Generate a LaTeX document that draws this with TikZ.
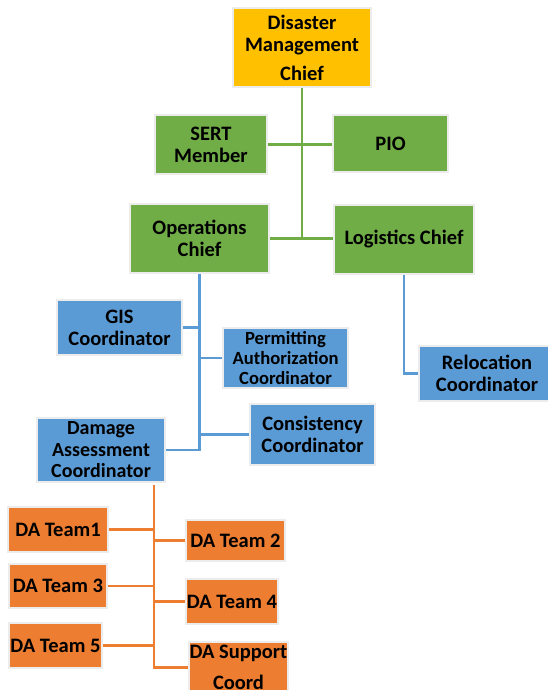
\documentclass[tikz,border=0pt]{standalone}
\usepackage{fontspec}
\setmainfont{Carlito}
\definecolor{boxgreen}{HTML}{70AD47}
\definecolor{boxblue}{HTML}{5B9BD5}
\definecolor{boxorange}{HTML}{ED7D31}
\definecolor{boxyellow}{HTML}{FFC000}
\begin{document}
\begin{tikzpicture}
          [x=1pt,y=-1pt,box/.style={rectangle, draw=gray!15, line width=1.2pt, inner sep=0pt, align=center, font=\bfseries\fontsize{20.5}{22}\selectfont}]
        \tikzset{
          greenbox/.style={box, fill=boxgreen},
          bluebox/.style={box, fill=boxblue},
          orangebox/.style={box, fill=boxorange},
          link/.style={line width=2.5pt}
        }
          \useasboundingbox (0,0) rectangle (548,690);
          % top levels
          \node [box, fill=boxyellow, minimum width=138, minimum height=79] (dmc) at (302,47.5) {Disaster\\Management\\[7pt]Chief};
          \node [greenbox, minimum width=112, minimum height=59] (sert) at (211,144.5) {SERT\\Member};
          \node [greenbox, minimum width=115, minimum height=57] (pio) at (390.5,143.5) {PIO};
          \node [greenbox, minimum width=139, minimum height=69] (ops) at (199.5,238.5) {Operations\\Chief};
          \node [greenbox, minimum width=140, minimum height=69] (logi) at (404,239.5) {Logistics Chief};
          % coordinators
          \node [bluebox, minimum width=125, minimum height=55] (gis) at (119.5,327.5) {GIS\\Coordinator};
          \node [bluebox, minimum width=125, minimum height=60, font=\bfseries\fontsize{18.6}{20}\selectfont] (permit) at (285.5,358) {Permitting\\Authorization\\Coordinator};
          \node [bluebox, minimum width=136, minimum height=55] (reloc) at (487,373.5) {Relocation\\Coordinator};
          \node [bluebox, minimum width=125, minimum height=61] (consist) at (312.5,434.5) {Consistency\\Coordinator};
          \node [bluebox, minimum width=128, minimum height=64, font=\bfseries\fontsize{20}{21.5}\selectfont] (damage) at (101,450) {Damage\\Assessment\\Coordinator};
          % DA teams
          \node [orangebox, minimum width=100, minimum height=45] (team1) at (58,529.5) {DA Team1};
          \node [orangebox, minimum width=99, minimum height=41] (team2) at (235.5,540.5) {DA Team 2};
          \node [orangebox, minimum width=98, minimum height=44] (team3) at (58,586) {DA Team 3};
          \node [orangebox, minimum width=92, minimum height=45] (team4) at (232,601.5) {DA Team 4};
          \node [orangebox, minimum width=93, minimum height=45] (team5) at (55.5,645.5) {DA Team 5};
          \node [orangebox, minimum width=99, minimum height=51] (support) at (238.5,667.5) {DA Support\\[9pt]Coord};
          \coordinate (dabus) at (154,485);

          \draw [link, boxgreen] (dmc.south) -- (dmc.south |- ops.east);
          \draw [link, boxgreen] (sert.east) -- (sert.east -| pio.west);
          \draw [link, boxgreen] (ops.east) -- (ops.east -| logi.west);

          \draw [link, boxblue] (ops.south) -- (ops.south |- damage.east) -- (damage.east);
          \draw [link, boxblue] (gis.east) -- (gis.east -| ops.south);
          \draw [link, boxblue] (ops.south |- permit.west) -- (permit.west);
          \draw [link, boxblue] (ops.south |- consist.west) -- (consist.west);
          \draw [link, boxblue] (logi.south) -- (logi.south |- reloc.west) -- (reloc.west);

          \draw [link, boxorange] (dabus) -- (dabus |- support.west) -- (support.west);
          \foreach \t in {team1,team3,team5}
            \draw [link, boxorange] (\t.east) -- (\t.east -| dabus);
          \foreach \t in {team2,team4}
            \draw [link, boxorange] (dabus |- \t.west) -- (\t.west);
        \end{tikzpicture}
\end{document}
